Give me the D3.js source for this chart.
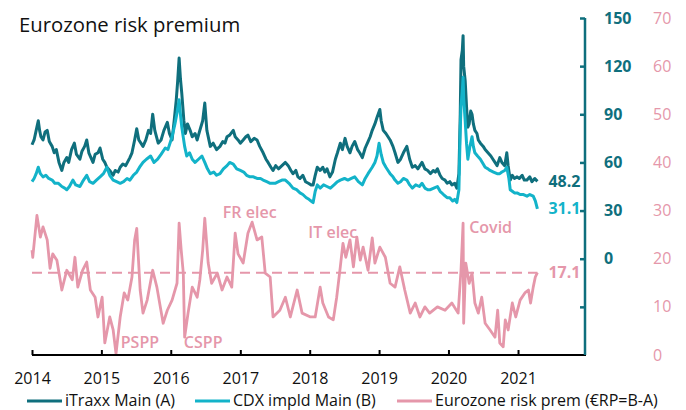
<!DOCTYPE html>
<html>
<head>
<meta charset="utf-8">
<script src="https://cdn.jsdelivr.net/npm/d3@7"></script>
<style>
  body { margin: 0; background: #fff; }
  svg { display: block; font-family: "Open Sans", sans-serif; }
</style>
</head>
<body>
<div id="chart"></div>
<script>
'use strict';

// series: [decimal year, value]
var itraxx = [
  [2014.00,71],[2014.03,74],[2014.06,80],[2014.09,86],[2014.11,80],[2014.13,76],[2014.16,74],[2014.19,79],
  [2014.22,80],[2014.25,73],[2014.29,70],[2014.32,66],[2014.35,68],[2014.39,60],[2014.43,55],[2014.46,60],
  [2014.50,63],[2014.53,60],[2014.57,68],[2014.61,72],[2014.64,65],[2014.69,62],[2014.72,67],[2014.76,70],
  [2014.79,74],[2014.82,66],[2014.85,63],[2014.88,60],[2014.91,65],[2014.95,66],[2014.98,69],
  [2015.02,62],[2015.05,60],[2015.08,57],[2015.12,55],[2015.17,52],[2015.20,55],[2015.24,54],[2015.27,57],
  [2015.31,59],[2015.35,58],[2015.41,63],[2015.44,66],[2015.48,74],[2015.51,81],[2015.54,74],[2015.57,72],
  [2015.60,70],[2015.64,74],[2015.68,80],[2015.71,78],[2015.74,90],[2015.77,80],[2015.82,72],[2015.86,74],
  [2015.90,80],[2015.95,85],[2015.98,78],
  [2016.02,74],[2016.05,86],[2016.08,99],[2016.10,110],[2016.12,125],[2016.14,112],[2016.16,103],[2016.19,86],
  [2016.21,78],[2016.24,84],[2016.28,80],[2016.31,76],[2016.35,78],[2016.38,74],[2016.42,80],[2016.46,86],
  [2016.49,97],[2016.52,80],[2016.57,70],[2016.61,72],[2016.66,68],[2016.71,70],[2016.75,73],[2016.78,72],
  [2016.81,76],[2016.85,77],[2016.90,80],[2016.93,76],[2016.97,74],
  [2017.00,72],[2017.04,74],[2017.08,76],[2017.11,77],[2017.15,73],[2017.20,75],[2017.24,74],[2017.28,70],
  [2017.33,66],[2017.37,62],[2017.40,60],[2017.44,57],[2017.47,55],[2017.51,58],[2017.55,56],[2017.60,58],
  [2017.65,60],[2017.69,58],[2017.73,55],[2017.76,53],[2017.80,55],[2017.83,51],[2017.86,50],[2017.90,52],
  [2017.94,48],[2017.98,47],
  [2018.02,46],[2018.05,46],[2018.08,52],[2018.11,57],[2018.15,55],[2018.19,57],[2018.22,54],[2018.25,56],
  [2018.29,51],[2018.33,54],[2018.37,62],[2018.40,66],[2018.44,72],[2018.47,68],[2018.51,75],[2018.54,70],
  [2018.58,66],[2018.61,70],[2018.65,73],[2018.69,68],[2018.72,66],[2018.76,63],[2018.80,69],[2018.84,73],
  [2018.87,76],[2018.90,80],[2018.94,84],[2018.97,88],
  [2019.01,93],[2019.03,86],[2019.06,80],[2019.10,78],[2019.13,76],[2019.16,74],[2019.20,70],[2019.23,66],
  [2019.27,60],[2019.31,62],[2019.35,66],[2019.40,70],[2019.44,62],[2019.48,57],[2019.52,58],[2019.56,56],
  [2019.59,58],[2019.62,60],[2019.66,56],[2019.70,55],[2019.74,53],[2019.78,55],[2019.81,54],[2019.84,56],
  [2019.88,52],[2019.91,50],[2019.95,49],[2019.98,47],
  [2020.02,48],[2020.05,46],[2020.09,47],[2020.12,44],[2020.15,53],[2020.17,90],[2020.18,124],[2020.20,130],
  [2020.21,139],[2020.22,120],[2020.24,111],[2020.26,95],[2020.28,82],[2020.30,84],[2020.32,92],[2020.34,90],
  [2020.36,84],[2020.38,80],[2020.41,78],[2020.43,74],[2020.46,72],[2020.50,70],[2020.53,68],[2020.57,66],
  [2020.61,64],[2020.64,62],[2020.67,60],[2020.70,58],[2020.74,63],[2020.77,60],[2020.81,58],[2020.84,66],
  [2020.86,58],[2020.89,49],[2020.92,52],[2020.95,50],[2020.99,51],
  [2021.02,50],[2021.06,52],[2021.09,49],[2021.13,49],[2021.17,51],[2021.20,48],[2021.24,50],[2021.28,48.2]
];

var cdx = [
  [2014.00,48],[2014.03,50],[2014.06,53],[2014.09,57],[2014.12,53],[2014.16,51],[2014.20,52],[2014.24,50],
  [2014.29,49],[2014.33,47],[2014.38,47],[2014.43,45],[2014.47,44],[2014.50,43],[2014.54,45],[2014.59,49],
  [2014.63,46],[2014.69,45],[2014.73,48],[2014.79,52],[2014.83,48],[2014.88,47],[2014.93,49],[2014.98,51],
  [2015.03,53],[2015.08,57],[2015.12,52],[2015.17,49],[2015.22,48],[2015.27,47],[2015.32,48],[2015.37,50],
  [2015.41,49],[2015.46,52],[2015.51,54],[2015.55,57],[2015.60,60],[2015.65,62],[2015.71,64],[2015.76,60],
  [2015.81,62],[2015.86,65],[2015.92,69],[2015.96,68],
  [2016.02,76],[2016.06,84],[2016.09,91],[2016.12,99],[2016.14,90],[2016.16,82],[2016.20,70],[2016.23,64],
  [2016.27,66],[2016.31,62],[2016.35,60],[2016.40,62],[2016.45,64],[2016.49,60],[2016.53,56],[2016.57,53],
  [2016.62,54],[2016.66,52],[2016.71,53],[2016.76,56],[2016.81,58],[2016.85,60],[2016.90,59],[2016.95,56],
  [2017.00,55],[2017.05,54],[2017.09,52],[2017.14,51],[2017.19,51],[2017.24,50],[2017.29,50],[2017.33,49],
  [2017.38,48],[2017.43,47],[2017.50,47],[2017.55,48],[2017.60,49],[2017.65,49],[2017.70,47],[2017.76,44],
  [2017.81,43],[2017.86,41],[2017.90,40],[2017.95,38],[2017.99,37],
  [2018.02,36],[2018.05,35],[2018.08,42],[2018.11,46],[2018.15,44],[2018.20,46],[2018.25,45],[2018.30,44],
  [2018.35,46],[2018.40,48],[2018.44,49],[2018.50,50],[2018.55,49],[2018.60,50],[2018.65,51],[2018.70,48],
  [2018.76,46],[2018.80,50],[2018.84,53],[2018.90,57],[2018.94,60],[2018.97,64],
  [2019.00,72],[2019.03,65],[2019.06,60],[2019.10,57],[2019.13,55],[2019.16,53],[2019.20,51],[2019.23,49],
  [2019.27,47],[2019.31,48],[2019.35,50],[2019.40,49],[2019.44,46],[2019.48,44],[2019.53,46],[2019.58,45],
  [2019.62,47],[2019.66,44],[2019.70,43],[2019.74,43],[2019.79,44],[2019.84,45],[2019.88,42],[2019.93,40],
  [2019.98,38],
  [2020.02,38],[2020.06,36],[2020.09,37],[2020.12,35],[2020.15,43],[2020.17,80],[2020.18,95],[2020.20,105],
  [2020.21,113],[2020.22,100],[2020.24,86],[2020.26,72],[2020.28,62],[2020.31,70],[2020.34,76],[2020.36,70],
  [2020.38,66],[2020.42,64],[2020.46,62],[2020.50,59],[2020.53,57],[2020.57,56],[2020.60,55],[2020.65,54],
  [2020.70,53],[2020.74,53],[2020.77,54],[2020.81,55],[2020.84,57],[2020.87,50],[2020.89,43],[2020.92,42],
  [2020.95,41],[2020.99,41],
  [2021.03,40],[2021.08,40],[2021.13,39],[2021.17,40],[2021.22,39],[2021.25,36],[2021.28,31.1]
];

var riskPrem = [
  [2014.00,21.8],[2014.01,20.3],[2014.07,29],[2014.12,24.5],[2014.16,26.6],[2014.22,23.9],[2014.26,18],[2014.30,21],
  [2014.36,19.7],[2014.43,13.5],[2014.50,17.6],[2014.58,15.6],[2014.62,20.3],[2014.66,14.1],[2014.73,17.6],[2014.79,19.3],
  [2014.84,13.5],[2014.91,12],[2014.95,7.9],[2015.01,12],[2015.05,2.5],[2015.12,7.9],[2015.17,5.2],[2015.21,0.3],
  [2015.27,7.9],[2015.33,12.9],[2015.38,11.4],[2015.44,16.2],[2015.48,23.9],[2015.51,26.3],[2015.56,13.5],[2015.60,8.7],
  [2015.66,11.4],[2015.74,17.6],[2015.80,14.1],[2015.89,6.6],[2015.95,9.3],[2016.02,11.4],[2016.09,14.9],[2016.12,27.4],
  [2016.15,21.8],[2016.18,17],[2016.20,3.7],[2016.25,8.7],[2016.31,14.1],[2016.38,12],[2016.42,15.6],[2016.46,21.8],
  [2016.49,28.4],[2016.54,19.1],[2016.59,14.9],[2016.67,17],[2016.74,13.5],[2016.81,16.2],[2016.88,14.1],[2016.93,25.3],
  [2016.97,21],[2017.04,19.1],[2017.11,25.3],[2017.17,27.6],[2017.24,23.9],[2017.31,24.5],[2017.36,17],[2017.43,16.2],
  [2017.47,7.9],[2017.57,9.3],[2017.65,12],[2017.72,7.9],[2017.82,13.5],[2017.89,8.7],[2018.01,7.9],[2018.08,7.9],
  [2018.15,14.1],[2018.19,10.8],[2018.27,7.9],[2018.34,7.3],[2018.39,12],[2018.44,18.3],[2018.48,23.2],[2018.52,20.3],
  [2018.58,23.9],[2018.63,18.3],[2018.68,24.5],[2018.73,19.7],[2018.77,22.4],[2018.84,17.6],[2018.90,24.3],[2018.94,19.1],
  [2019.01,22.4],[2019.09,20.3],[2019.16,14.9],[2019.23,14.1],[2019.30,18.3],[2019.37,13.5],[2019.45,8.7],[2019.52,10.8],
  [2019.59,7.9],[2019.66,10],[2019.73,8.7],[2019.84,10],[2019.95,9.3],[2020.05,10.8],[2020.14,8.7],[2020.18,17.6],
  [2020.21,27.4],[2020.22,6.6],[2020.25,19.1],[2020.30,14.9],[2020.34,17],[2020.38,10.8],[2020.43,8.7],[2020.48,12],
  [2020.53,6.6],[2020.60,5.2],[2020.67,3.7],[2020.71,9.3],[2020.74,2.5],[2020.79,1.7],[2020.82,7.3],[2020.86,5.2],
  [2020.92,10.8],[2020.97,7.9],[2021.03,11.4],[2021.10,12.9],[2021.15,13.5],[2021.18,10.8],[2021.22,14.1],[2021.25,16.2],
  [2021.28,17.1]
];

var yearTicks = [2014, 2015, 2016, 2017, 2018, 2019, 2020, 2021];
var leftTicks = [-30, 0, 30, 60, 90, 120, 150];
var rightTicks = [0, 10, 20, 30, 40, 50, 60, 70];
var rpAverage = 17.1;

var seriesNames = ["iTraxx Main (A)", "CDX impld Main (B)", "Eurozone risk prem (\u20acRP=B-A)"];
var teal = "#0f6f7d", cyan = "#13b3c9", pink = "#e597aa";

function toDate(t) {
  var yr = Math.floor(t);
  return new Date(yr, 0, 1 + Math.round((t - yr) * 365));
}

var width = 686, height = 410;
var svg = d3.select("#chart").append("svg")
  .attr("width", width).attr("height", height);

var x = d3.scaleTime()
  .domain([toDate(2014), toDate(2022)])
  .range([32, 587.4]);
var yL = d3.scaleLinear().domain([-60, 150]).range([355, 18]);
var yR = d3.scaleLinear().domain([0, 70]).range([355, 18]);
var axisX = 585;

// title
svg.append("text")
  .attr("x", 19).attr("y", 32)
  .style("font-size", "20.3px")
  .style("fill", "#111")
  .text("Eurozone risk premium");

// dashed average line
svg.append("line")
  .attr("x1", x(toDate(2014))).attr("x2", x(toDate(2021.28)))
  .attr("y1", yR(rpAverage)).attr("y2", yR(rpAverage))
  .style("stroke", pink).style("stroke-width", 2)
  .style("stroke-dasharray", "10,6");

var lineL = d3.line().x(d => x(toDate(d[0]))).y(d => yL(d[1]));
var lineR = d3.line().x(d => x(toDate(d[0]))).y(d => yR(d[1]));

svg.append("path").datum(riskPrem)
  .attr("d", lineR)
  .style("fill", "none").style("stroke", pink).style("stroke-width", 2.8)
  .style("stroke-linejoin", "round");
svg.append("path").datum(itraxx)
  .attr("d", lineL)
  .style("fill", "none").style("stroke", teal).style("stroke-width", 3)
  .style("stroke-linejoin", "round");
svg.append("path").datum(cdx)
  .attr("d", lineL)
  .style("fill", "none").style("stroke", cyan).style("stroke-width", 3)
  .style("stroke-linejoin", "round");

// end labels
function endLabel(series, scale, color, txt) {
  var last = series[series.length - 1];
  svg.append("text")
    .attr("x", x(toDate(last[0])) + 11)
    .attr("y", scale(last[1]))
    .attr("dy", "0.33em")
    .style("font-size", "16px").style("font-weight", 700)
    .style("fill", color)
    .text(txt);
}
endLabel(itraxx, yL, teal, "48.2");
endLabel(cdx, yL, cyan, "31.1");
endLabel(riskPrem, yR, pink, "17.1");

// event annotations
var notes = [
  ["FR elec", 2016.75, 28.4],
  ["IT elec", 2017.98, 24.3],
  ["Covid", 2020.30, 25.3],
  ["PSPP", 2015.28, 1.45],
  ["CSPP", 2016.19, 1.45]
];
svg.selectAll(".note").data(notes).enter().append("text")
  .attr("class", "note")
  .attr("x", d => x(toDate(d[1])))
  .attr("y", d => yR(d[2]))
  .style("font-size", "16px").style("font-weight", 600)
  .style("fill", pink)
  .text(d => d[0]);

// x axis
var gx = svg.append("g").attr("transform", "translate(0,355)")
  .call(d3.axisBottom(x)
    .tickValues(yearTicks.map(toDate))
    .tickFormat(d3.timeFormat("%Y"))
    .tickSizeInner(-5).tickSizeOuter(0).tickPadding(17.5));
gx.select(".domain").remove();
gx.append("line").attr("x1", 32).attr("x2", axisX + 1)
  .style("stroke", "#000").style("stroke-width", 2);
gx.selectAll(".tick line").style("stroke", "#000").style("stroke-width", 2);
gx.selectAll("text").style("font-size", "16px").style("fill", "#111")
  .style("font-family", "'Open Sans', sans-serif");

// right axis (teal, A and B)
var gy = svg.append("g").attr("transform", "translate(" + axisX + ",0)")
  .call(d3.axisRight(yL)
    .tickValues(leftTicks)
    .tickFormat(d => d < 0 ? "" : d)
    .tickSizeInner(-5).tickSizeOuter(0).tickPadding(19));
gy.select(".domain").attr("d", "M0," + yL(150) + "V355")
  .style("stroke", teal).style("stroke-width", 2.5);
gy.selectAll(".tick line").style("stroke", teal).style("stroke-width", 2.5);
gy.selectAll("text").style("font-size", "16px").style("font-weight", 700)
  .style("fill", teal).style("font-family", "'Open Sans', sans-serif");

// second scale (pink, risk premium)
var gr = svg.append("g").attr("transform", "translate(" + axisX + ",0)")
  .call(d3.axisRight(yR)
    .tickValues(rightTicks)
    .tickSize(0).tickPadding(68));
gr.select(".domain").remove();
gr.selectAll("text").style("font-size", "16px")
  .style("fill", pink).style("font-family", "'Open Sans', sans-serif");

// legend
var legendX = [27, 195, 397];
var legendColors = [teal, cyan, pink];
var leg = svg.selectAll(".legend").data(seriesNames).enter().append("g")
  .attr("class", "legend")
  .attr("transform", (d, i) => "translate(" + legendX[i] + ",0)");
leg.append("line")
  .attr("x1", 0).attr("x2", 35).attr("y1", 401).attr("y2", 401)
  .style("stroke", (d, i) => legendColors[i]).style("stroke-width", 3);
leg.append("text")
  .attr("x", 38).attr("y", 406)
  .style("font-size", "16px").style("fill", "#111")
  .text(d => d);
</script>
</body>
</html>
